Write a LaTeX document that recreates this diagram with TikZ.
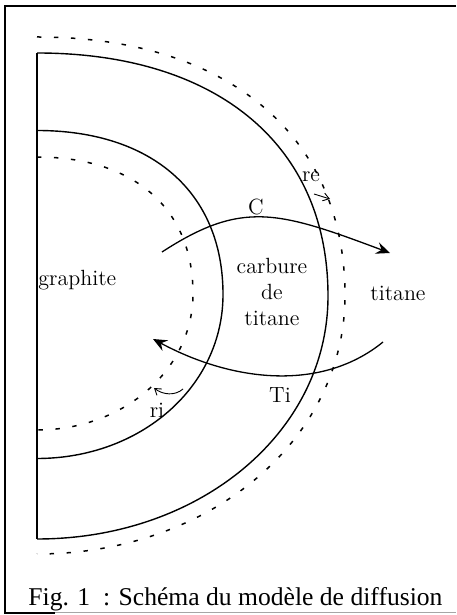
\documentclass[tikz,border=0pt]{standalone}
\usepackage{fontspec}
\newfontfamily\capfont{Liberation Serif}
\usetikzlibrary{arrows.meta}

\begin{document}
\begin{tikzpicture}[
  x=0.5pt,y=0.5pt,
  font=\fontsize{11}{13}\selectfont,
  shell/.style={line width=0.7pt,black},
  limit/.style={line width=0.75pt,black,dash pattern=on 2.2pt off 6.3pt},
  flux/.style={-{Stealth[length=7pt,width=6pt,inset=2.5pt]},line width=0.65pt},
  radius/.style={-{Straight Barb[length=3pt,width=4pt]},line width=0.45pt},
  lbl/.style={inner sep=0pt,align=center}
]
\useasboundingbox (0,0) rectangle (456,615);

% frame
\draw[line width=1pt] (456,609) -- (5,609) -- (5,2) -- (55,2);
\draw[line width=0.5pt,black!35] (55,2) -- (456,2);

% shells: axis, re, ri
\draw[shell] (37,562) -- (37,76);
\draw[shell] (37,562) .. controls (217,562) and (328,470) .. (328,319)
  .. controls (328,183) and (200,76) .. (37,76);
\draw[shell] (37,484.5) .. controls (152,484.5) and (223,422.5) .. (223,320.5)
  .. controls (223,228.5) and (141,156.5) .. (37,156.5);
\draw[limit] (37,578) .. controls (228,578) and (345,479.5) .. (345,319.5)
  .. controls (345,174.5) and (209,61) .. (37,61);
\draw[limit] (37,458) .. controls (134,458) and (193,406.5) .. (193,321.5)
  .. controls (193,245.5) and (124,185) .. (37,185);

% labels
\node[lbl,anchor=west] (graphite) at (38,335) {graphite};
\node[lbl] (carbure) at (272,323) {carbure\\de\\titane};
\node[lbl] (titane) at (398,322) {titane};
\node[lbl] (C) at (256,408) {C};
\node[lbl] (Ti) at (280,220) {Ti};
\node[lbl] (re) at (311,438) {re};
\node[lbl] (ri) at (157,205) {ri};

% fluxes
\coordinate (cs) at (162,363);
\coordinate (ce) at (390,362);
\coordinate (ts) at (383,273);
\coordinate (te) at (153,276);
\draw[flux] (cs) .. controls (242,415) and (278,404) .. (ce);
\draw[flux] (ts) .. controls (323,224) and (235,232) .. (te);

% radii
\coordinate (res) at (314,421);
\coordinate (ree) at (330,416);
\coordinate (ris) at (183,226);
\coordinate (rie) at (154,227);
\draw[radius] (res) -- (ree);
\draw[radius] (ris) .. controls (175,219) and (163,220) .. (rie);

% caption
\node[anchor=base west,inner sep=0pt,font=\capfont\fontsize{12.8}{14}\selectfont] (cap) at (28,10)
  {Fig. 1~~: Schéma du modèle de diffusion};

\end{tikzpicture}
\end{document}
